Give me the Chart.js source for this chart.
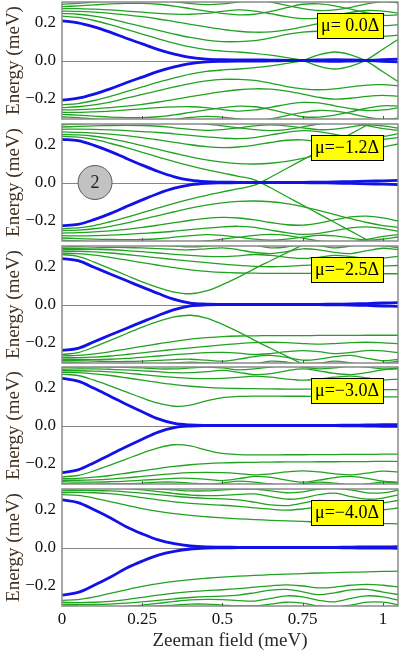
<!DOCTYPE html>
<html>
<head>
<meta charset="utf-8">
<script src="https://cdn.jsdelivr.net/npm/chart.js@4.4.1/dist/chart.umd.min.js"></script>
<style>
  html, body { margin: 0; padding: 0; background: #fff; }
  #wrap { position: relative; width: 399px; height: 658px; }
  #wrap canvas { position: absolute; left: 0; top: 0; }
</style>
</head>
<body>
<div id="wrap">
  <canvas id="c1" width="399" height="658"></canvas>
  <canvas id="c2" width="399" height="658"></canvas>
  <canvas id="c3" width="399" height="658"></canvas>
  <canvas id="c4" width="399" height="658"></canvas>
  <canvas id="c5" width="399" height="658"></canvas>
</div>
<script>
// Zeeman field grid (meV), shared by every curve
const fields = [0, 0.05, 0.1, 0.15, 0.2, 0.25, 0.3, 0.35, 0.4, 0.45, 0.5, 0.55, 0.6, 0.65, 0.7, 0.75, 0.8, 0.85, 0.9, 0.95, 1.0, 1.05];

const xTicks = [0, 0.25, 0.5, 0.75, 1];
const xTickLabels = ['0', '0.25', '0.5', '0.75', '1'];
const yTicks = [-0.2, 0, 0.2];
const yTickLabels = ['\u22120.2', '0.0', '0.2'];
const muLabels = ['\u03bc= 0.0\u0394', '\u03bc=\u22121.2\u0394', '\u03bc=\u22122.5\u0394', '\u03bc=\u22123.0\u0394', '\u03bc=\u22124.0\u0394'];

// ---- panel 1 : mu = 0.0 ----
const p1BlueUp = [0.21,0.2,0.178,0.15,0.118,0.088,0.058,0.034,0.016,0.007,0.004,0.003,0.003,0.002,0.001,0,-0.003,-0.005,-0.003,0,0.004,0.007];
const p1BlueDn = [-0.21,-0.2,-0.178,-0.15,-0.118,-0.088,-0.058,-0.034,-0.016,-0.007,-0.004,-0.003,-0.003,-0.002,-0.001,0,0.003,0.005,0.003,0,-0.004,-0.007];
const p1GreenUp = [
  [0.235,0.228,0.212,0.19,0.165,0.14,0.115,0.092,0.072,0.058,0.05,0.045,0.038,0.028,0.015,0,-0.03,-0.045,-0.03,0.005,0.06,0.115],
  [0.25,0.245,0.235,0.22,0.2,0.18,0.16,0.14,0.122,0.108,0.1,0.1,0.105,0.12,0.138,0.15,0.155,0.15,0.14,0.13,0.128,0.135],
  [0.262,0.26,0.256,0.25,0.242,0.232,0.22,0.206,0.192,0.178,0.165,0.155,0.15,0.152,0.162,0.178,0.195,0.205,0.2,0.19,0.185,0.19],
  [0.275,0.275,0.272,0.268,0.262,0.256,0.25,0.246,0.245,0.25,0.26,0.268,0.262,0.248,0.232,0.222,0.225,0.24,0.255,0.265,0.262,0.25],
  [0.285,0.29,0.295,0.3,0.303,0.303,0.298,0.288,0.275,0.262,0.25,0.242,0.245,0.26,0.28,0.298,0.3,0.29,0.272,0.252,0.24,0.242],
  [0.298,0.303,0.31,0.318,0.325,0.328,0.322,0.312,0.302,0.296,0.3,0.31,0.318,0.31,0.292,0.275,0.265,0.268,0.282,0.3,0.312,0.305]
];
const p1GreenDn = [
  [-0.235,-0.228,-0.212,-0.19,-0.165,-0.14,-0.115,-0.092,-0.072,-0.058,-0.05,-0.045,-0.038,-0.028,-0.015,0,0.03,0.045,0.03,-0.005,-0.06,-0.115],
  [-0.25,-0.245,-0.235,-0.22,-0.2,-0.18,-0.16,-0.14,-0.122,-0.108,-0.1,-0.1,-0.105,-0.12,-0.138,-0.15,-0.155,-0.15,-0.14,-0.13,-0.128,-0.135],
  [-0.262,-0.26,-0.256,-0.25,-0.242,-0.232,-0.22,-0.206,-0.192,-0.178,-0.165,-0.155,-0.15,-0.152,-0.162,-0.178,-0.195,-0.205,-0.2,-0.19,-0.185,-0.19],
  [-0.275,-0.275,-0.272,-0.268,-0.262,-0.256,-0.25,-0.246,-0.245,-0.25,-0.26,-0.268,-0.262,-0.248,-0.232,-0.222,-0.225,-0.24,-0.255,-0.265,-0.262,-0.25],
  [-0.285,-0.29,-0.295,-0.3,-0.303,-0.303,-0.298,-0.288,-0.275,-0.262,-0.25,-0.242,-0.245,-0.26,-0.28,-0.298,-0.3,-0.29,-0.272,-0.252,-0.24,-0.242],
  [-0.298,-0.303,-0.31,-0.318,-0.325,-0.328,-0.322,-0.312,-0.302,-0.296,-0.3,-0.31,-0.318,-0.31,-0.292,-0.275,-0.265,-0.268,-0.282,-0.3,-0.312,-0.305]
];

// ---- panel 2 : mu = -1.2 ----
const p2BlueUp = [0.229,0.222,0.197,0.165,0.128,0.092,0.058,0.03,0.012,0.004,0.002,0.001,0.001,0.001,0.001,0.001,0.002,0.003,0.005,0.007,0.009,0.011];
const p2BlueDn = [-0.229,-0.222,-0.197,-0.165,-0.128,-0.092,-0.058,-0.03,-0.012,-0.004,-0.002,-0.001,-0.001,-0.001,-0.001,-0.001,-0.002,-0.003,-0.005,-0.007,-0.009,-0.011];
const p2GreenUp = [
  [0.245,0.24,0.228,0.208,0.185,0.16,0.135,0.11,0.088,0.068,0.05,0.033,0.014,-0.028,-0.074,-0.12,-0.166,-0.212,-0.258,-0.304,-0.35,-0.396],
  [0.255,0.252,0.245,0.232,0.215,0.195,0.175,0.155,0.136,0.12,0.108,0.1,0.098,0.102,0.112,0.128,0.148,0.17,0.192,0.212,0.228,0.238],
  [0.268,0.266,0.262,0.256,0.248,0.238,0.226,0.213,0.2,0.19,0.185,0.188,0.198,0.212,0.224,0.226,0.215,0.198,0.182,0.178,0.188,0.205],
  [0.282,0.283,0.282,0.279,0.275,0.27,0.265,0.258,0.25,0.242,0.235,0.232,0.238,0.252,0.266,0.275,0.27,0.255,0.24,0.235,0.244,0.26],
  [0.294,0.297,0.3,0.302,0.303,0.302,0.298,0.29,0.282,0.276,0.28,0.29,0.3,0.305,0.3,0.29,0.28,0.283,0.295,0.305,0.3,0.288],
  [0.305,0.31,0.315,0.32,0.325,0.328,0.328,0.324,0.318,0.31,0.3,0.29,0.28,0.275,0.28,0.295,0.31,0.32,0.316,0.302,0.286,0.276]
];
const p2GreenDn = [
  [-0.245,-0.24,-0.228,-0.208,-0.185,-0.16,-0.135,-0.11,-0.088,-0.068,-0.05,-0.033,-0.014,0.028,0.074,0.12,0.166,0.212,0.258,0.304,0.35,0.396],
  [-0.255,-0.252,-0.245,-0.232,-0.215,-0.195,-0.175,-0.155,-0.136,-0.12,-0.108,-0.1,-0.098,-0.102,-0.112,-0.128,-0.148,-0.17,-0.192,-0.212,-0.228,-0.238],
  [-0.268,-0.266,-0.262,-0.256,-0.248,-0.238,-0.226,-0.213,-0.2,-0.19,-0.185,-0.188,-0.198,-0.212,-0.224,-0.226,-0.215,-0.198,-0.182,-0.178,-0.188,-0.205],
  [-0.282,-0.283,-0.282,-0.279,-0.275,-0.27,-0.265,-0.258,-0.25,-0.242,-0.235,-0.232,-0.238,-0.252,-0.266,-0.275,-0.27,-0.255,-0.24,-0.235,-0.244,-0.26],
  [-0.294,-0.297,-0.3,-0.302,-0.303,-0.302,-0.298,-0.29,-0.282,-0.276,-0.28,-0.29,-0.3,-0.305,-0.3,-0.29,-0.28,-0.283,-0.295,-0.305,-0.3,-0.288],
  [-0.305,-0.31,-0.315,-0.32,-0.325,-0.328,-0.328,-0.324,-0.318,-0.31,-0.3,-0.29,-0.28,-0.275,-0.28,-0.295,-0.31,-0.32,-0.316,-0.302,-0.286,-0.276]
];

// ---- panel 3 : mu = -2.5 ----
const p3BlueUp = [0.243,0.232,0.197,0.162,0.127,0.092,0.058,0.027,0.007,0.002,0.001,0.001,0.001,0.001,0.001,0.001,0.001,0.002,0.003,0.005,0.008,0.01];
const p3BlueDn = [-0.243,-0.232,-0.197,-0.162,-0.127,-0.092,-0.058,-0.027,-0.007,-0.002,-0.001,-0.001,-0.001,-0.001,-0.001,-0.001,-0.001,-0.002,-0.003,-0.005,-0.008,-0.01];
const p3GreenUp = [
  [0.265,0.255,0.225,0.19,0.155,0.12,0.09,0.066,0.057,0.072,0.105,0.145,0.19,0.232,0.274,0.316,0.358,0.4,0.44,0.48,0.52,0.56],
  [0.272,0.27,0.262,0.25,0.236,0.222,0.208,0.195,0.184,0.176,0.17,0.167,0.166,0.165,0.165,0.165,0.164,0.164,0.164,0.163,0.163,0.163],
  [0.282,0.282,0.279,0.273,0.265,0.256,0.247,0.238,0.23,0.222,0.214,0.207,0.202,0.2,0.202,0.207,0.21,0.207,0.202,0.2,0.203,0.208],
  [0.29,0.291,0.292,0.29,0.286,0.28,0.273,0.266,0.26,0.255,0.254,0.258,0.265,0.26,0.25,0.244,0.25,0.26,0.254,0.244,0.246,0.256],
  [0.296,0.298,0.3,0.302,0.302,0.3,0.296,0.292,0.29,0.295,0.3,0.29,0.276,0.27,0.28,0.295,0.29,0.276,0.27,0.285,0.298,0.29],
  [0.304,0.308,0.313,0.317,0.32,0.32,0.316,0.31,0.305,0.31,0.32,0.325,0.315,0.3,0.305,0.32,0.312,0.3,0.31,0.322,0.312,0.3]
];
const p3GreenDn = [
  [-0.265,-0.255,-0.225,-0.19,-0.155,-0.12,-0.09,-0.066,-0.057,-0.072,-0.105,-0.145,-0.19,-0.232,-0.274,-0.316,-0.358,-0.4,-0.44,-0.48,-0.52,-0.56],
  [-0.272,-0.27,-0.262,-0.25,-0.236,-0.222,-0.208,-0.195,-0.184,-0.176,-0.17,-0.167,-0.166,-0.165,-0.165,-0.165,-0.164,-0.164,-0.164,-0.163,-0.163,-0.163],
  [-0.282,-0.282,-0.279,-0.273,-0.265,-0.256,-0.247,-0.238,-0.23,-0.222,-0.214,-0.207,-0.202,-0.2,-0.202,-0.207,-0.21,-0.207,-0.202,-0.2,-0.203,-0.208],
  [-0.29,-0.291,-0.292,-0.29,-0.286,-0.28,-0.273,-0.266,-0.26,-0.255,-0.254,-0.258,-0.265,-0.26,-0.25,-0.244,-0.25,-0.26,-0.254,-0.244,-0.246,-0.256],
  [-0.296,-0.298,-0.3,-0.302,-0.302,-0.3,-0.296,-0.292,-0.29,-0.295,-0.3,-0.29,-0.276,-0.27,-0.28,-0.295,-0.29,-0.276,-0.27,-0.285,-0.298,-0.29],
  [-0.304,-0.308,-0.313,-0.317,-0.32,-0.32,-0.316,-0.31,-0.305,-0.31,-0.32,-0.325,-0.315,-0.3,-0.305,-0.32,-0.312,-0.3,-0.31,-0.322,-0.312,-0.3]
];

// ---- panel 4 : mu = -3.0 ----
const p4BlueUp = [0.25,0.235,0.197,0.155,0.113,0.073,0.035,0.011,0.003,0.001,0.001,0.001,0.001,0.001,0.001,0.001,0.001,0.001,0.002,0.003,0.004,0.005];
const p4BlueDn = [-0.25,-0.235,-0.197,-0.155,-0.113,-0.073,-0.035,-0.011,-0.003,-0.001,-0.001,-0.001,-0.001,-0.001,-0.001,-0.001,-0.001,-0.001,-0.002,-0.003,-0.004,-0.005];
const p4GreenUp = [
  [0.272,0.265,0.24,0.21,0.178,0.146,0.118,0.102,0.108,0.13,0.148,0.154,0.156,0.156,0.155,0.155,0.154,0.154,0.153,0.153,0.152,0.152],
  [0.282,0.28,0.274,0.265,0.253,0.24,0.228,0.217,0.208,0.202,0.198,0.196,0.195,0.194,0.193,0.193,0.192,0.192,0.191,0.191,0.19,0.19],
  [0.29,0.29,0.288,0.284,0.278,0.27,0.262,0.255,0.25,0.248,0.25,0.255,0.262,0.256,0.246,0.24,0.246,0.256,0.262,0.252,0.242,0.246],
  [0.298,0.3,0.3,0.298,0.295,0.29,0.285,0.28,0.28,0.285,0.292,0.282,0.27,0.275,0.29,0.3,0.29,0.276,0.27,0.28,0.295,0.3],
  [0.308,0.31,0.312,0.31,0.308,0.305,0.3,0.3,0.305,0.31,0.305,0.295,0.3,0.31,0.32,0.31,0.3,0.305,0.315,0.31,0.3,0.305]
];
const p4GreenDn = [
  [-0.272,-0.265,-0.24,-0.21,-0.178,-0.146,-0.118,-0.102,-0.108,-0.13,-0.148,-0.154,-0.156,-0.156,-0.155,-0.155,-0.154,-0.154,-0.153,-0.153,-0.152,-0.152],
  [-0.282,-0.28,-0.274,-0.265,-0.253,-0.24,-0.228,-0.217,-0.208,-0.202,-0.198,-0.196,-0.195,-0.194,-0.193,-0.193,-0.192,-0.192,-0.191,-0.191,-0.19,-0.19],
  [-0.29,-0.29,-0.288,-0.284,-0.278,-0.27,-0.262,-0.255,-0.25,-0.248,-0.25,-0.255,-0.262,-0.256,-0.246,-0.24,-0.246,-0.256,-0.262,-0.252,-0.242,-0.246],
  [-0.298,-0.3,-0.3,-0.298,-0.295,-0.29,-0.285,-0.28,-0.28,-0.285,-0.292,-0.282,-0.27,-0.275,-0.29,-0.3,-0.29,-0.276,-0.27,-0.28,-0.295,-0.3],
  [-0.308,-0.31,-0.312,-0.31,-0.308,-0.305,-0.3,-0.3,-0.305,-0.31,-0.305,-0.295,-0.3,-0.31,-0.32,-0.31,-0.3,-0.305,-0.315,-0.31,-0.3,-0.305]
];

// ---- panel 5 : mu = -4.0 ----
const p5BlueUp = [0.252,0.238,0.2,0.158,0.11,0.072,0.04,0.02,0.008,0.003,0.002,0.001,0.001,0.001,0.001,0.001,0.001,0.001,0.002,0.003,0.003,0.004];
const p5BlueDn = [-0.252,-0.238,-0.2,-0.158,-0.11,-0.072,-0.04,-0.02,-0.008,-0.003,-0.002,-0.001,-0.001,-0.001,-0.001,-0.001,-0.001,-0.001,-0.002,-0.003,-0.003,-0.004];
const p5GreenUp = [
  [0.28,0.276,0.262,0.243,0.224,0.206,0.191,0.179,0.17,0.163,0.157,0.152,0.148,0.144,0.141,0.138,0.135,0.133,0.131,0.129,0.127,0.125],
  [0.29,0.292,0.29,0.285,0.276,0.264,0.252,0.242,0.234,0.228,0.224,0.218,0.21,0.203,0.198,0.204,0.214,0.21,0.2,0.195,0.2,0.21],
  [0.3,0.302,0.302,0.3,0.295,0.288,0.28,0.272,0.265,0.26,0.258,0.252,0.24,0.226,0.222,0.235,0.25,0.24,0.225,0.222,0.236,0.25],
  [0.31,0.312,0.315,0.315,0.312,0.305,0.296,0.286,0.278,0.275,0.276,0.281,0.284,0.27,0.256,0.262,0.28,0.288,0.27,0.256,0.262,0.28],
  [0.32,0.325,0.33,0.33,0.325,0.318,0.31,0.305,0.3,0.3,0.305,0.31,0.31,0.3,0.29,0.295,0.31,0.315,0.305,0.29,0.29,0.305]
];
const p5GreenDn = [
  [-0.28,-0.276,-0.262,-0.243,-0.224,-0.206,-0.191,-0.179,-0.17,-0.163,-0.157,-0.152,-0.148,-0.144,-0.141,-0.138,-0.135,-0.133,-0.131,-0.129,-0.127,-0.125],
  [-0.29,-0.292,-0.29,-0.285,-0.276,-0.264,-0.252,-0.242,-0.234,-0.228,-0.224,-0.218,-0.21,-0.203,-0.198,-0.204,-0.214,-0.21,-0.2,-0.195,-0.2,-0.21],
  [-0.3,-0.302,-0.302,-0.3,-0.295,-0.288,-0.28,-0.272,-0.265,-0.26,-0.258,-0.252,-0.24,-0.226,-0.222,-0.235,-0.25,-0.24,-0.225,-0.222,-0.236,-0.25],
  [-0.31,-0.312,-0.315,-0.315,-0.312,-0.305,-0.296,-0.286,-0.278,-0.275,-0.276,-0.281,-0.284,-0.27,-0.256,-0.262,-0.28,-0.288,-0.27,-0.256,-0.262,-0.28],
  [-0.32,-0.325,-0.33,-0.33,-0.325,-0.318,-0.31,-0.305,-0.3,-0.3,-0.305,-0.31,-0.31,-0.3,-0.29,-0.295,-0.31,-0.315,-0.305,-0.29,-0.29,-0.305]
];

// marker "2" in panel 2 (data coords)
const circleAt = { x: 0.103, y: 0 };

const panels = [
  { blue: [p1BlueUp, p1BlueDn], green: p1GreenUp.concat(p1GreenDn) },
  { blue: [p2BlueUp, p2BlueDn], green: p2GreenUp.concat(p2GreenDn) },
  { blue: [p3BlueUp, p3BlueDn], green: p3GreenUp.concat(p3GreenDn) },
  { blue: [p4BlueUp, p4BlueDn], green: p4GreenUp.concat(p4GreenDn) },
  { blue: [p5BlueUp, p5BlueDn], green: p5GreenUp.concat(p5GreenDn) }
];

const panelTops = [2, 124, 246, 367, 489];
const panelH = 117;
const xMax = 1.047;
const yLim = 0.31;
const serif = '"Liberation Serif", "Times New Roman", serif';

function pts(arr) {
  return fields.map((f, i) => ({ x: f, y: arr[i] }));
}

function decor(k) {
  return {
    id: 'decor' + k,
    beforeDatasetsDraw(chart) {
      const { ctx, chartArea: a, scales: { y } } = chart;
      const py = Math.round(y.getPixelForValue(0)) + 0.5;
      ctx.save();
      ctx.strokeStyle = '#858585';
      ctx.lineWidth = 1;
      ctx.beginPath();
      ctx.moveTo(a.left, py);
      ctx.lineTo(a.right, py);
      ctx.stroke();
      ctx.restore();
    },
    afterDatasetsDraw(chart) {
      const { ctx, chartArea: a, scales: { x, y } } = chart;
      ctx.save();
      // frame
      ctx.strokeStyle = '#8a8a8a';
      ctx.lineWidth = 1.5;
      ctx.strokeRect(a.left, a.top, a.right - a.left, a.bottom - a.top);
      // small tick marks on the bottom edge
      ctx.strokeStyle = '#555';
      ctx.lineWidth = 1;
      xTicks.slice(1).forEach(v => {
        const px = Math.round(x.getPixelForValue(v)) + 0.5;
        ctx.beginPath();
        ctx.moveTo(px, a.bottom);
        ctx.lineTo(px, a.bottom - 3);
        ctx.stroke();
      });
      // mu label box
      ctx.font = '18px ' + serif;
      const txt = muLabels[k];
      const w = Math.round(ctx.measureText(txt).width) + 8;
      const bh = 25;
      const bx = Math.round(a.right - 15 - w);
      const by = Math.round(a.top + 11);
      ctx.fillStyle = '#ffff00';
      ctx.fillRect(bx, by, w, bh);
      ctx.strokeStyle = '#000';
      ctx.strokeRect(bx + 0.5, by + 0.5, w, bh);
      ctx.fillStyle = '#000';
      ctx.textBaseline = 'middle';
      ctx.textAlign = 'left';
      ctx.fillText(txt, bx + 4, by + bh / 2 + 1);
      // grey circle with "2"
      if (k === 1) {
        const cx = x.getPixelForValue(circleAt.x);
        const cy = y.getPixelForValue(circleAt.y);
        ctx.beginPath();
        ctx.arc(cx, cy, 17, 0, Math.PI * 2);
        ctx.fillStyle = '#c2c2c2';
        ctx.fill();
        ctx.strokeStyle = '#5a5a5a';
        ctx.lineWidth = 1;
        ctx.stroke();
        ctx.fillStyle = '#222';
        ctx.textAlign = 'center';
        ctx.font = '18px ' + serif;
        ctx.fillText('2', cx, cy + 1);
      }
      ctx.restore();
    }
  };
}

panels.forEach((p, k) => {
  const last = k === panels.length - 1;
  const top = panelTops[k];
  const ds = [];
  p.blue.forEach(a => ds.push({ data: pts(a), borderColor: '#1212e6', borderWidth: 2.8 }));
  p.green.forEach(a => ds.push({ data: pts(a), borderColor: '#21a321', borderWidth: 1.3 }));

  new Chart(document.getElementById('c' + (k + 1)), {
    type: 'line',
    data: { datasets: ds },
    options: {
      responsive: false,
      animation: false,
      layout: { padding: { top: top, left: 0, right: 1, bottom: last ? 0 : 658 - top - panelH } },
      elements: { point: { radius: 0 }, line: { tension: 0.35, fill: false } },
      plugins: { legend: { display: false }, tooltip: { enabled: false } },
      scales: {
        x: {
          type: 'linear', min: 0, max: xMax, display: last,
          grid: { display: false, drawTicks: false },
          border: { display: false },
          afterBuildTicks: s => { s.ticks = xTicks.map(v => ({ value: v })); },
          afterFit: s => { s.height = last ? 658 - top - panelH : 0; },
          ticks: {
            callback: (v, i) => xTickLabels[i],
            font: { family: serif, size: 17 }, color: '#111',
            padding: 3, maxRotation: 0, autoSkip: false
          },
          title: {
            display: true, text: 'Zeeman field (meV)',
            font: { family: serif, size: 19 }, color: '#2a2a2a',
            padding: { top: 0, bottom: 6 }
          }
        },
        y: {
          min: -yLim, max: yLim,
          grid: { display: false, drawTicks: false },
          border: { display: false },
          afterBuildTicks: s => { s.ticks = yTicks.map(v => ({ value: v })); },
          afterFit: s => { s.width = 62; s.paddingTop = 0; s.paddingBottom = 0; },
          ticks: {
            callback: (v, i) => yTickLabels[i],
            font: { family: serif, size: 17 }, color: '#111', padding: 6
          },
          title: {
            display: true, text: 'Energy (meV)',
            font: { family: serif, size: 19 }, color: '#43301f',
            padding: { top: 3, bottom: 0 }
          }
        }
      }
    },
    plugins: [decor(k)]
  });
});
</script>
</body>
</html>
